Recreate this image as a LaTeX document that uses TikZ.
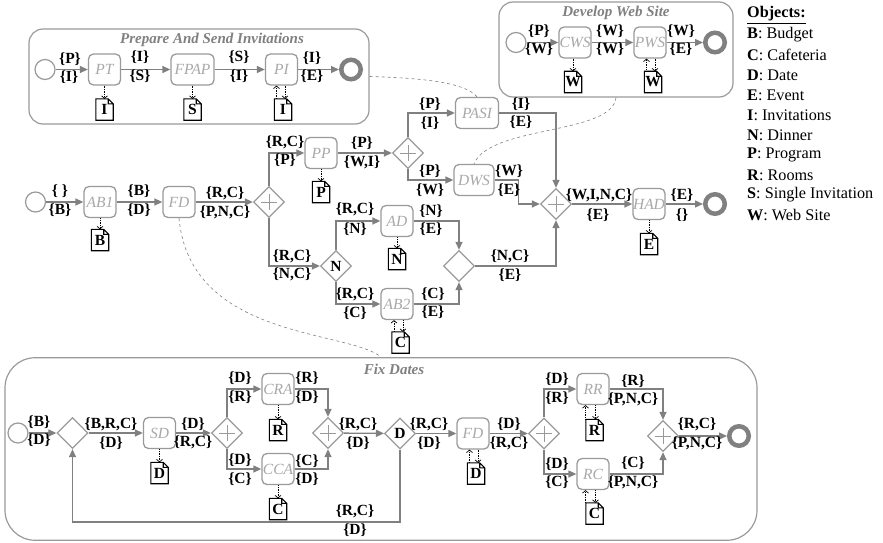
\documentclass[tikz,border=0pt]{standalone}
\usepackage{xcolor}
\usepackage{fontspec}
\usepackage{tikz}
\usetikzlibrary{shapes.geometric,arrows.meta,positioning,calc}
\setmainfont{Liberation Serif}
\definecolor{FlowGray}{HTML}{808080}
\definecolor{BoxGray}{HTML}{9A9A9A}
\definecolor{TaskGray}{HTML}{A8A8A8}
\tikzset{
  SP/.style={rectangle,rounded corners=14pt,draw=BoxGray,line width=1.2pt},
  TK/.style={rectangle,rounded corners=5pt,draw=BoxGray,line width=1.3pt,
             minimum width=32pt,minimum height=31pt,inner sep=0pt,
             text=TaskGray,font=\fontsize{15.5}{16}\selectfont\itshape},
  GW/.style={diamond,aspect=1,draw=BoxGray,line width=1.3pt,
             minimum width=31pt,minimum height=31pt,inner sep=0pt,
             font=\fontsize{15.5}{16}\selectfont\bfseries},
  GP/.style={GW,append after command={\pgfextra{
             \draw[BoxGray,line width=0.7pt]
               ([xshift=-8pt]\tikzlastnode.center)--([xshift=8pt]\tikzlastnode.center)
               ([yshift=-8pt]\tikzlastnode.center)--([yshift=8pt]\tikzlastnode.center);}}},
  SE/.style={circle,draw=BoxGray,line width=1.2pt,minimum size=20pt,inner sep=0pt},
  EE/.style={circle,draw=FlowGray,line width=4.5pt,minimum size=19.5pt,inner sep=0pt},
  DC/.style={rectangle,minimum width=17pt,minimum height=21pt,inner sep=0pt,
             font=\fontsize{15.5}{16}\selectfont\bfseries,
             append after command={\pgfextra{
             \draw[black,line width=1.1pt,line join=miter]
               (\tikzlastnode.south west)--(\tikzlastnode.north west)
               --([xshift=-5pt]\tikzlastnode.north east)--([yshift=-5pt]\tikzlastnode.north east)
               --(\tikzlastnode.south east)--cycle
               ([xshift=-5pt]\tikzlastnode.north east)--([xshift=-5pt,yshift=-5pt]\tikzlastnode.north east)
               --([yshift=-5pt]\tikzlastnode.north east);}}},
  flw/.style={-{Triangle[length=8pt,width=7pt]},draw=FlowGray,line width=1.3pt},
  rd/.style={-{Straight Barb[length=2.5pt,width=6pt]},black,densely dotted,line width=0.7pt},
  asc/.style={draw=FlowGray,dashed,line width=0.6pt},
  LB/.style={inner sep=0pt,font=\fontsize{15.5}{16}\selectfont\bfseries},
  TT/.style={inner sep=0pt,text=FlowGray,font=\fontsize{15}{16}\selectfont\bfseries\itshape},
  OB/.style={inner sep=0pt,anchor=west,font=\fontsize{16.2}{17}\selectfont}
}
\begin{document}
\begin{tikzpicture}[x=1pt,y=-1pt]
  \useasboundingbox (0,0) rectangle (883,543);

  \node[SP,minimum width=340pt,minimum height=95pt] (prep) at (199,76.5) {};
  \node[TT] (preptitle) at (212,40) {Prepare And Send Invitations};
  \node[SE] (pstart) at (45,69.5) {};
  \node[TK] (pt) at (104.5,69.5) {PT};
  \node[TK,minimum width=43pt] (fpap) at (192.5,69.5) {FPAP};
  \node[TK] (pi) at (281.5,69.5) {PI};
  \node[EE] (pend) at (351,69.5) {};
  \node[DC] (docpt) at (104.5,109.5) {I};
  \node[DC] (docfpap) at (192.5,109.5) {S};
  \node[DC] (docpi) at (283,109.5) {I};
  \draw[flw] (pstart)--(pt);
  \draw[flw] (pt)--(fpap);
  \draw[flw] (fpap)--(pi);
  \draw[flw] (pi)--(pend);
  \draw[rd] (pt.south)--(docpt.north);
  \draw[rd] (fpap.south)--(docfpap.north);
  \draw[rd] ([xshift=3.5pt]pi.south)--([xshift=2pt]docpi.north);
  \draw[rd] ([xshift=-6.5pt]docpi.north)--([xshift=-5pt]pi.south);
  \node[LB] (l1) at (70,59) {\{P\}};
  \node[LB] (l2) at (69,77) {\{I\}};
  \node[LB] (l3) at (140,57) {\{I\}};
  \node[LB] (l4) at (140,76) {\{S\}};
  \node[LB] (l5) at (239,57) {\{S\}};
  \node[LB] (l6) at (239,76) {\{I\}};
  \node[LB] (l7) at (312,58) {\{I\}};
  \node[LB] (l8) at (312,76) {\{E\}};

  \node[SP,minimum width=234pt,minimum height=95pt] (web) at (616,49.5) {};
  \node[TT] (webtitle) at (616,13) {Develop Web Site};
  \node[SE] (wstart) at (516,42.5) {};
  \node[TK] (cws) at (575,42.5) {CWS};
  \node[TK] (pws) at (650,42.5) {PWS};
  \node[EE] (wend) at (715,42.5) {};
  \node[DC] (doccws) at (573,82) {W};
  \node[DC] (docpws) at (653,82) {W};
  \draw[flw] (wstart)--(cws);
  \draw[flw] (cws)--(pws);
  \draw[flw] (pws)--(wend);
  \draw[rd] ([xshift=-2pt]cws.south)--(doccws.north);
  \draw[rd] ([xshift=5pt]pws.south)--([xshift=2pt]docpws.north);
  \draw[rd] ([xshift=-6.5pt]docpws.north)--([xshift=-3.5pt]pws.south);
  \node[LB] (l9) at (539,31) {\{P\}};
  \node[LB] (l10) at (539,49) {\{W\}};
  \node[LB] (l11) at (610,31) {\{W\}};
  \node[LB] (l12) at (610,49) {\{W\}};
  \node[LB] (l13) at (681,31) {\{W\}};
  \node[LB] (l14) at (681,49) {\{E\}};

  \node[SE] (start) at (35.5,202) {};
  \node[TK] (ab1) at (100,202) {AB1};
  \node[TK] (fd) at (179,202) {FD};
  \node[GP] (split) at (269,202) {};
  \node[TK] (pp) at (321,153) {PP};
  \node[GP] (psplit) at (408,153) {};
  \node[TK,minimum width=43pt] (pasi) at (477,113) {PASI};
  \node[TK,minimum width=40pt] (dws) at (474,180) {DWS};
  \node[GW] (ngw) at (336,266) {N};
  \node[TK] (ad) at (397,221) {AD};
  \node[TK] (ab2) at (397,304) {AB2};
  \node[GW] (nmerge) at (459,266) {};
  \node[GP] (merge) at (556,204) {};
  \node[TK] (had) at (649,204) {HAD};
  \node[EE] (end) at (715,204) {};
  \node[DC] (docab1) at (100,240) {B};
  \node[DC] (docpp) at (321,192) {P};
  \node[DC] (docad) at (397,259) {N};
  \node[DC] (docab2) at (400.5,342.5) {C};
  \node[DC] (dochad) at (649,244) {E};
  \draw[flw] (start)--(ab1);
  \draw[flw] (ab1)--(fd);
  \draw[flw] (fd)--(split);
  \draw[flw] (split.north) |- (pp.west);
  \draw[flw] (split.south) |- (ngw.west);
  \draw[flw] (pp)--(psplit);
  \draw[flw] (psplit.north) |- (pasi.west);
  \draw[flw] (psplit.south) |- (dws.west);
  \draw[flw] (pasi.east) -| (merge.north);
  \draw[flw] (dws.east)--++(23.5,0) |- (merge.west);
  \draw[flw] (ngw.north) |- (ad.west);
  \draw[flw] (ngw.south) |- (ab2.west);
  \draw[flw] (ad.east) -| (nmerge.north);
  \draw[flw] (ab2.east) -| (nmerge.south);
  \draw[flw] (nmerge.east) -| (merge.south);
  \draw[flw] (merge)--(had);
  \draw[flw] (had)--(end);
  \draw[rd] (ab1.south)--(docab1.north);
  \draw[rd] (pp.south)--(docpp.north);
  \draw[rd] (ad.south)--(docad.north);
  \draw[rd] (had.south)--(dochad.north);
  \draw[rd] ([xshift=6pt]ab2.south)--([xshift=2.5pt]docab2.north);
  \draw[rd] ([xshift=-6.5pt]docab2.north)--([xshift=-3pt]ab2.south);
  \node[LB] (l15) at (60,191) {\{ \}};
  \node[LB] (l16) at (60,210) {\{B\}};
  \node[LB] (l17) at (139,191) {\{B\}};
  \node[LB] (l18) at (139,210) {\{D\}};
  \node[LB] (l19) at (225,193) {\{R,C\}};
  \node[LB] (l20) at (225,212) {\{P,N,C\}};
  \node[LB] (l21) at (285,142) {\{R,C\}};
  \node[LB] (l22) at (285,160) {\{P\}};
  \node[LB] (l23) at (362,143) {\{P\}};
  \node[LB] (l24) at (362,162) {\{W,I\}};
  \node[LB] (l25) at (430,104) {\{P\}};
  \node[LB] (l26) at (430,123) {\{I\}};
  \node[LB] (l27) at (430,171) {\{P\}};
  \node[LB] (l28) at (430,190) {\{W\}};
  \node[LB] (l29) at (521,104) {\{I\}};
  \node[LB] (l30) at (521,122) {\{E\}};
  \node[LB] (l31) at (509,171) {\{W\}};
  \node[LB] (l32) at (509,190) {\{E\}};
  \node[LB] (l33) at (599,195) {\{W,I,N,C\}};
  \node[LB] (l34) at (598,215) {\{E\}};
  \node[LB] (l35) at (682,195) {\{E\}};
  \node[LB] (l36) at (682,215) {\{\}};
  \node[LB] (l37) at (292,256) {\{R,C\}};
  \node[LB] (l38) at (292,274) {\{N,C\}};
  \node[LB] (l39) at (355,209) {\{R,C\}};
  \node[LB] (l40) at (355,229) {\{N\}};
  \node[LB] (l41) at (431,211) {\{N\}};
  \node[LB] (l42) at (431,229) {\{E\}};
  \node[LB] (l43) at (355,294) {\{R,C\}};
  \node[LB] (l44) at (355,313) {\{C\}};
  \node[LB] (l45) at (433,294) {\{C\}};
  \node[LB] (l46) at (433,312) {\{E\}};
  \node[LB] (l47) at (510,256) {\{N,C\}};
  \node[LB] (l48) at (510,275) {\{E\}};

  \node[SP,rounded corners=30pt,minimum width=752pt,minimum height=182.5pt] (fix) at (381,449) {};
  \node[TT] (fixtitle) at (394,369) {Fix Dates};
  \node[SE] (fstart) at (18,433) {};
  \node[GW] (fgw) at (72.5,433) {};
  \node[TK] (sd) at (159.5,433) {SD};
  \node[GP] (csplit) at (227,433) {};
  \node[TK] (cra) at (278,389) {CRA};
  \node[TK] (cca) at (278,469) {CCA};
  \node[GP] (cmerge) at (328,433) {};
  \node[GW] (dgw) at (400,433.5) {D};
  \node[TK] (fd2) at (473,433.5) {FD};
  \node[GP] (rsplit) at (544,433.5) {};
  \node[TK] (rr) at (593,389) {RR};
  \node[TK] (rc) at (593,474) {RC};
  \node[GP] (rmerge) at (663,436) {};
  \node[EE] (fend) at (739,436) {};
  \node[DC] (docsd) at (159.5,473) {D};
  \node[DC] (doccra) at (278,430) {R};
  \node[DC] (doccca) at (278,509) {C};
  \node[DC] (docfd) at (476,473.5) {D};
  \node[DC] (docrr) at (594.5,430) {R};
  \node[DC] (docrc) at (594.5,513.5) {C};
  \coordinate (loopb) at (72.5,522);
  \draw[flw] (fstart)--(fgw);
  \draw[flw] (fgw)--(sd);
  \draw[flw] (sd)--(csplit);
  \draw[flw] (csplit.north) |- (cra.west);
  \draw[flw] (csplit.south) |- (cca.west);
  \draw[flw] (cra.east) -| (cmerge.north);
  \draw[flw] (cca.east) -| (cmerge.south);
  \draw[flw] (cmerge)--(dgw);
  \draw[flw] (dgw)--(fd2);
  \draw[flw] (fd2)--(rsplit);
  \draw[flw] (dgw.south) |- (loopb)--(fgw.south);
  \draw[flw] (rsplit.north) |- (rr.west);
  \draw[flw] (rsplit.south) |- (rc.west);
  \draw[flw] (rr.east) -| (rmerge.north);
  \draw[flw] (rc.east) -| (rmerge.south);
  \draw[flw] (rmerge)--(fend);
  \draw[rd] (sd.south)--(docsd.north);
  \draw[rd] (cra.south)--(doccra.north);
  \draw[rd] (cca.south)--(doccca.north);
  \draw[rd] ([xshift=5pt]fd2.south)--([xshift=2pt]docfd.north);
  \draw[rd] ([xshift=-6.5pt]docfd.north)--([xshift=-3.5pt]fd2.south);
  \draw[rd] ([xshift=2.5pt]rr.south)--([xshift=1pt]docrr.north);
  \draw[rd] ([xshift=-9pt]docrr.north)--([xshift=-7.5pt]rr.south);
  \draw[rd] ([xshift=2.5pt]rc.south)--([xshift=1pt]docrc.north);
  \draw[rd] ([xshift=-9pt]docrc.north)--([xshift=-7.5pt]rc.south);
  \node[LB] (l49) at (39,422) {\{B\}};
  \node[LB] (l50) at (39,440) {\{D\}};
  \node[LB] (l51) at (111,424) {\{B,R,C\}};
  \node[LB] (l52) at (111,443) {\{D\}};
  \node[LB] (l53) at (193,424) {\{D\}};
  \node[LB] (l54) at (193,442) {\{R,C\}};
  \node[LB] (l55) at (240,378) {\{D\}};
  \node[LB] (l56) at (240,397) {\{R\}};
  \node[LB] (l57) at (307,378) {\{R\}};
  \node[LB] (l58) at (307,397) {\{D\}};
  \node[LB] (l59) at (240,460) {\{D\}};
  \node[LB] (l60) at (240,479) {\{C\}};
  \node[LB] (l61) at (307,461) {\{C\}};
  \node[LB] (l62) at (307,479) {\{D\}};
  \node[LB] (l63) at (358,424) {\{R,C\}};
  \node[LB] (l64) at (358,443) {\{D\}};
  \node[LB] (l65) at (429,424) {\{R,C\}};
  \node[LB] (l66) at (429,443) {\{D\}};
  \node[LB] (l67) at (355,511) {\{R,C\}};
  \node[LB] (l68) at (355,530) {\{D\}};
  \node[LB] (l69) at (509,424) {\{D\}};
  \node[LB] (l70) at (509,443) {\{R,C\}};
  \node[LB] (l71) at (557,379) {\{D\}};
  \node[LB] (l72) at (557,398) {\{R\}};
  \node[LB] (l73) at (633,381) {\{R\}};
  \node[LB] (l74) at (633,399) {\{P,N,C\}};
  \node[LB] (l75) at (557,464) {\{D\}};
  \node[LB] (l76) at (557,482) {\{C\}};
  \node[LB] (l77) at (633,463) {\{C\}};
  \node[LB] (l78) at (633,482) {\{P,N,C\}};
  \node[LB] (l79) at (697,424) {\{R,C\}};
  \node[LB] (l80) at (697,443) {\{P,N,C\}};

  \draw[asc] (prep.east) .. controls (420,78) and (465,82) .. (pasi.north);
  \draw[asc] (web.south) .. controls (612,135) and (490,125) .. (dws.north);
  \draw[asc] (fd.south) .. controls (190,340) and (350,330) .. (fix.north);

  \node[OB] (objhead) at (747,15) {\textbf{\underline{Objects:}}};
  \node[OB] (objb) at (747,35) {\textbf{B}: Budget};
  \node[OB] (objc) at (747,55) {\textbf{C}: Cafeteria};
  \node[OB] (objd) at (747,75) {\textbf{D}: Date};
  \node[OB] (obje) at (747,95) {\textbf{E}: Event};
  \node[OB] (obji) at (747,115) {\textbf{I}: Invitations};
  \node[OB] (objn) at (747,135) {\textbf{N}: Dinner};
  \node[OB] (objp) at (747,155) {\textbf{P}: Program};
  \node[OB] (objr) at (747,175) {\textbf{R}: Rooms};
  \node[OB] (objs) at (747,195) {\textbf{S}: Single Invitation};
  \node[OB] (objw) at (747,215) {\textbf{W}: Web Site};
\end{tikzpicture}
\end{document}
